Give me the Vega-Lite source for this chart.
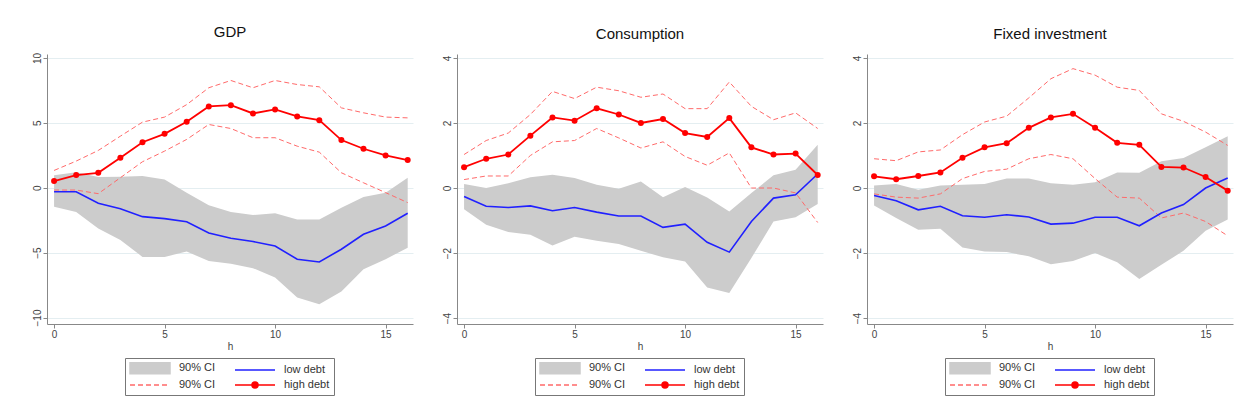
{
  "$schema": "https://vega.github.io/schema/vega-lite/v6.json",
  "padding": {"left": 32, "top": 25, "right": 5, "bottom": 5},
  "background": "white",
  "datasets": {
    "irf": [
      {"p":"GDP","h":0,"lo_l":-1.46,"lo_u":0.95,"low":-0.31,"hi_l":-0.18,"hi_u":1.33,"high":0.51},
      {"p":"GDP","h":1,"lo_l":-1.87,"lo_u":1.2,"low":-0.31,"hi_l":-0.18,"hi_u":2.05,"high":0.97},
      {"p":"GDP","h":2,"lo_l":-3.15,"lo_u":0.82,"low":-1.2,"hi_l":-0.46,"hi_u":2.87,"high":1.15},
      {"p":"GDP","h":3,"lo_l":-4.03,"lo_u":0.85,"low":-1.62,"hi_l":0.77,"hi_u":3.97,"high":2.3},
      {"p":"GDP","h":4,"lo_l":-5.33,"lo_u":0.9,"low":-2.23,"hi_l":2.0,"hi_u":5.05,"high":3.5},
      {"p":"GDP","h":5,"lo_l":-5.33,"lo_u":0.64,"low":-2.38,"hi_l":2.82,"hi_u":5.44,"high":4.15},
      {"p":"GDP","h":6,"lo_l":-4.92,"lo_u":-0.38,"low":-2.62,"hi_l":3.72,"hi_u":6.4,"high":5.08},
      {"p":"GDP","h":7,"lo_l":-5.64,"lo_u":-1.36,"low":-3.49,"hi_l":4.87,"hi_u":7.7,"high":6.26},
      {"p":"GDP","h":8,"lo_l":-5.85,"lo_u":-1.87,"low":-3.9,"hi_l":4.56,"hi_u":8.26,"high":6.36},
      {"p":"GDP","h":9,"lo_l":-6.2,"lo_u":-2.1,"low":-4.15,"hi_l":3.85,"hi_u":7.7,"high":5.72},
      {"p":"GDP","h":10,"lo_l":-6.92,"lo_u":-1.97,"low":-4.49,"hi_l":3.85,"hi_u":8.26,"high":6.03},
      {"p":"GDP","h":11,"lo_l":-8.46,"lo_u":-2.44,"low":-5.51,"hi_l":3.2,"hi_u":7.95,"high":5.49},
      {"p":"GDP","h":12,"lo_l":-8.97,"lo_u":-2.44,"low":-5.72,"hi_l":2.74,"hi_u":7.77,"high":5.2},
      {"p":"GDP","h":13,"lo_l":-8.0,"lo_u":-1.54,"low":-4.74,"hi_l":1.15,"hi_u":6.15,"high":3.67},
      {"p":"GDP","h":14,"lo_l":-6.28,"lo_u":-0.72,"low":-3.59,"hi_l":0.38,"hi_u":5.77,"high":3.0},
      {"p":"GDP","h":15,"lo_l":-5.51,"lo_u":-0.38,"low":-2.95,"hi_l":-0.38,"hi_u":5.44,"high":2.49},
      {"p":"GDP","h":16,"lo_l":-4.62,"lo_u":0.77,"low":-1.97,"hi_l":-1.15,"hi_u":5.38,"high":2.13},
      {"p":"Consumption","h":0,"lo_l":-0.65,"lo_u":0.12,"low":-0.26,"hi_l":0.26,"hi_u":1.03,"high":0.64},
      {"p":"Consumption","h":1,"lo_l":-1.13,"lo_u":0.0,"low":-0.56,"hi_l":0.37,"hi_u":1.46,"high":0.9},
      {"p":"Consumption","h":2,"lo_l":-1.35,"lo_u":0.15,"low":-0.6,"hi_l":0.37,"hi_u":1.69,"high":1.03},
      {"p":"Consumption","h":3,"lo_l":-1.44,"lo_u":0.33,"low":-0.55,"hi_l":1.0,"hi_u":2.26,"high":1.61},
      {"p":"Consumption","h":4,"lo_l":-1.77,"lo_u":0.41,"low":-0.7,"hi_l":1.42,"hi_u":2.97,"high":2.17},
      {"p":"Consumption","h":5,"lo_l":-1.5,"lo_u":0.31,"low":-0.6,"hi_l":1.46,"hi_u":2.75,"high":2.07},
      {"p":"Consumption","h":6,"lo_l":-1.62,"lo_u":0.1,"low":-0.74,"hi_l":1.83,"hi_u":3.1,"high":2.45},
      {"p":"Consumption","h":7,"lo_l":-1.72,"lo_u":-0.02,"low":-0.86,"hi_l":1.54,"hi_u":2.99,"high":2.26},
      {"p":"Consumption","h":8,"lo_l":-1.93,"lo_u":0.2,"low":-0.86,"hi_l":1.23,"hi_u":2.79,"high":2.0},
      {"p":"Consumption","h":9,"lo_l":-2.13,"lo_u":-0.28,"low":-1.21,"hi_l":1.42,"hi_u":2.89,"high":2.12},
      {"p":"Consumption","h":10,"lo_l":-2.26,"lo_u":0.03,"low":-1.11,"hi_l":0.97,"hi_u":2.44,"high":1.69},
      {"p":"Consumption","h":11,"lo_l":-3.06,"lo_u":-0.29,"low":-1.67,"hi_l":0.7,"hi_u":2.44,"high":1.57},
      {"p":"Consumption","h":12,"lo_l":-3.23,"lo_u":-0.72,"low":-1.97,"hi_l":1.08,"hi_u":3.26,"high":2.15},
      {"p":"Consumption","h":13,"lo_l":-2.15,"lo_u":-0.15,"low":-1.03,"hi_l":0.0,"hi_u":2.51,"high":1.25},
      {"p":"Consumption","h":14,"lo_l":-1.03,"lo_u":0.39,"low":-0.31,"hi_l":0.0,"hi_u":2.1,"high":1.03},
      {"p":"Consumption","h":15,"lo_l":-0.9,"lo_u":0.56,"low":-0.21,"hi_l":-0.15,"hi_u":2.31,"high":1.06},
      {"p":"Consumption","h":16,"lo_l":-0.49,"lo_u":1.33,"low":0.43,"hi_l":-1.06,"hi_u":1.83,"high":0.4},
      {"p":"Fixed investment","h":0,"lo_l":-0.54,"lo_u":0.08,"low":-0.23,"hi_l":-0.18,"hi_u":0.9,"high":0.36},
      {"p":"Fixed investment","h":1,"lo_l":-0.92,"lo_u":0.12,"low":-0.39,"hi_l":-0.28,"hi_u":0.84,"high":0.27},
      {"p":"Fixed investment","h":2,"lo_l":-1.28,"lo_u":-0.05,"low":-0.67,"hi_l":-0.31,"hi_u":1.11,"high":0.37},
      {"p":"Fixed investment","h":3,"lo_l":-1.25,"lo_u":0.08,"low":-0.56,"hi_l":-0.18,"hi_u":1.17,"high":0.48},
      {"p":"Fixed investment","h":4,"lo_l":-1.83,"lo_u":0.1,"low":-0.85,"hi_l":0.29,"hi_u":1.64,"high":0.93},
      {"p":"Fixed investment","h":5,"lo_l":-1.95,"lo_u":0.12,"low":-0.9,"hi_l":0.51,"hi_u":2.03,"high":1.25},
      {"p":"Fixed investment","h":6,"lo_l":-1.97,"lo_u":0.29,"low":-0.82,"hi_l":0.58,"hi_u":2.21,"high":1.38},
      {"p":"Fixed investment","h":7,"lo_l":-2.1,"lo_u":0.29,"low":-0.89,"hi_l":0.9,"hi_u":2.77,"high":1.85},
      {"p":"Fixed investment","h":8,"lo_l":-2.34,"lo_u":0.15,"low":-1.11,"hi_l":1.03,"hi_u":3.36,"high":2.17},
      {"p":"Fixed investment","h":9,"lo_l":-2.24,"lo_u":0.1,"low":-1.08,"hi_l":0.9,"hi_u":3.67,"high":2.28},
      {"p":"Fixed investment","h":10,"lo_l":-2.0,"lo_u":0.18,"low":-0.9,"hi_l":0.29,"hi_u":3.47,"high":1.85},
      {"p":"Fixed investment","h":11,"lo_l":-2.28,"lo_u":0.48,"low":-0.9,"hi_l":-0.28,"hi_u":3.1,"high":1.39},
      {"p":"Fixed investment","h":12,"lo_l":-2.8,"lo_u":0.47,"low":-1.16,"hi_l":-0.31,"hi_u":3.0,"high":1.33},
      {"p":"Fixed investment","h":13,"lo_l":-2.36,"lo_u":0.82,"low":-0.77,"hi_l":-0.92,"hi_u":2.28,"high":0.65},
      {"p":"Fixed investment","h":14,"lo_l":-1.93,"lo_u":0.92,"low":-0.51,"hi_l":-0.77,"hi_u":2.05,"high":0.63},
      {"p":"Fixed investment","h":15,"lo_l":-1.31,"lo_u":1.25,"low":0.0,"hi_l":-1.03,"hi_u":1.72,"high":0.34},
      {"p":"Fixed investment","h":16,"lo_l":-0.97,"lo_u":1.59,"low":0.31,"hi_l":-1.47,"hi_u":1.31,"high":-0.08}
    ]
  },
  "data": {"name": "irf"},
  "spacing": 29,
  "resolve": {
    "scale": {"x": "independent", "y": "independent", "shape": "independent", "fill": "independent", "stroke": "independent"},
    "legend": {"shape": "independent", "fill": "independent", "stroke": "independent"}
  },
  "hconcat": [
    {
      "title": "GDP",
      "width": 366, "height": 270,
      "transform": [{"filter": "datum.p == 'GDP'"}],
      "encoding": {"x": {"field": "h", "type": "quantitative", "title": "h", "scale": {"domain": [-0.32, 16.24], "nice": false, "zero": false}, "axis": {"values": [0, 5, 10, 15], "grid": false}}},
      "layer": [
        {"mark": {"type": "area", "color": "#cccccc", "opacity": 1}, "encoding": {"y": {"field": "lo_l", "type": "quantitative", "title": null, "scale": {"domain": [-10.5, 10.3], "nice": false, "zero": false}, "axis": {"values": [-10, -5, 0, 5, 10]}}, "y2": {"field": "lo_u"}}},
        {"mark": {"type": "line", "color": "#ff6a6a", "strokeWidth": 1, "strokeDash": [5, 3]}, "encoding": {"y": {"field": "hi_u", "type": "quantitative"}}},
        {"mark": {"type": "line", "color": "#ff6a6a", "strokeWidth": 1, "strokeDash": [5, 3]}, "encoding": {"y": {"field": "hi_l", "type": "quantitative"}}},
        {"mark": {"type": "line", "color": "#2020ff", "strokeWidth": 1.6}, "encoding": {"y": {"field": "low", "type": "quantitative"}}},
        {"mark": {"type": "line", "color": "#ff0000", "strokeWidth": 1.8, "point": {"filled": true, "size": 36, "color": "#ff0000", "opacity": 1}}, "encoding": {"y": {"field": "high", "type": "quantitative"}}},
        {
          "transform": [{"filter": "false"}],
          "mark": {"type": "point", "filled": true, "opacity": 1},
          "encoding": {
            "shape": {"field": "key", "type": "nominal", "scale": {"domain": ["band", "low", "ci", "high"], "range": ["M-1,-1.1H7V1.1H-1Z", "M-1,0H7", "M-1,0H0M0.6,0H1.6M2.2,0H3.2M3.8,0H4.8M5.4,0H6.4", "M-1,0H7M2.4,0A0.6,0.6,0,1,0,3.6,0A0.6,0.6,0,1,0,2.4,0Z"]}, "legend": {"title": null, "orient": "none", "direction": "horizontal", "legendX": 78, "legendY": 304, "columns": 2, "labelExpr": "datum.label == 'low' ? 'low debt' : datum.label == 'high' ? 'high debt' : '90% CI'"}},
            "fill": {"field": "key", "type": "nominal", "scale": {"domain": ["band", "low", "ci", "high"], "range": ["#cccccc", "#2020ff", "#ff6a6a", "#ff0000"]}, "legend": {"title": null, "orient": "none", "direction": "horizontal", "legendX": 78, "legendY": 304, "columns": 2, "labelExpr": "datum.label == 'low' ? 'low debt' : datum.label == 'high' ? 'high debt' : '90% CI'"}},
            "stroke": {"field": "key", "type": "nominal", "scale": {"domain": ["band", "low", "ci", "high"], "range": ["#cccccc", "#2020ff", "#ff6a6a", "#ff0000"]}, "legend": {"title": null, "orient": "none", "direction": "horizontal", "legendX": 78, "legendY": 304, "columns": 2, "labelExpr": "datum.label == 'low' ? 'low debt' : datum.label == 'high' ? 'high debt' : '90% CI'"}}
          }
        }
      ]
    },
    {
      "title": "Consumption",
      "width": 366, "height": 270,
      "transform": [{"filter": "datum.p == 'Consumption'"}],
      "encoding": {"x": {"field": "h", "type": "quantitative", "title": "h", "scale": {"domain": [-0.32, 16.24], "nice": false, "zero": false}, "axis": {"values": [0, 5, 10, 15], "grid": false}}},
      "layer": [
        {"mark": {"type": "area", "color": "#cccccc", "opacity": 1}, "encoding": {"y": {"field": "lo_l", "type": "quantitative", "title": null, "scale": {"domain": [-4.18, 4.12], "nice": false, "zero": false}, "axis": {"values": [-4, -2, 0, 2, 4]}}, "y2": {"field": "lo_u"}}},
        {"mark": {"type": "line", "color": "#ff6a6a", "strokeWidth": 1, "strokeDash": [5, 3]}, "encoding": {"y": {"field": "hi_u", "type": "quantitative"}}},
        {"mark": {"type": "line", "color": "#ff6a6a", "strokeWidth": 1, "strokeDash": [5, 3]}, "encoding": {"y": {"field": "hi_l", "type": "quantitative"}}},
        {"mark": {"type": "line", "color": "#2020ff", "strokeWidth": 1.6}, "encoding": {"y": {"field": "low", "type": "quantitative"}}},
        {"mark": {"type": "line", "color": "#ff0000", "strokeWidth": 1.8, "point": {"filled": true, "size": 36, "color": "#ff0000", "opacity": 1}}, "encoding": {"y": {"field": "high", "type": "quantitative"}}},
        {
          "transform": [{"filter": "false"}],
          "mark": {"type": "point", "filled": true, "opacity": 1},
          "encoding": {
            "shape": {"field": "key", "type": "nominal", "scale": {"domain": ["band", "low", "ci", "high"], "range": ["M-1,-1.1H7V1.1H-1Z", "M-1,0H7", "M-1,0H0M0.6,0H1.6M2.2,0H3.2M3.8,0H4.8M5.4,0H6.4", "M-1,0H7M2.4,0A0.6,0.6,0,1,0,3.6,0A0.6,0.6,0,1,0,2.4,0Z"]}, "legend": {"title": null, "orient": "none", "direction": "horizontal", "legendX": 78, "legendY": 304, "columns": 2, "labelExpr": "datum.label == 'low' ? 'low debt' : datum.label == 'high' ? 'high debt' : '90% CI'"}},
            "fill": {"field": "key", "type": "nominal", "scale": {"domain": ["band", "low", "ci", "high"], "range": ["#cccccc", "#2020ff", "#ff6a6a", "#ff0000"]}, "legend": {"title": null, "orient": "none", "direction": "horizontal", "legendX": 78, "legendY": 304, "columns": 2, "labelExpr": "datum.label == 'low' ? 'low debt' : datum.label == 'high' ? 'high debt' : '90% CI'"}},
            "stroke": {"field": "key", "type": "nominal", "scale": {"domain": ["band", "low", "ci", "high"], "range": ["#cccccc", "#2020ff", "#ff6a6a", "#ff0000"]}, "legend": {"title": null, "orient": "none", "direction": "horizontal", "legendX": 78, "legendY": 304, "columns": 2, "labelExpr": "datum.label == 'low' ? 'low debt' : datum.label == 'high' ? 'high debt' : '90% CI'"}}
          }
        }
      ]
    },
    {
      "title": "Fixed investment",
      "width": 366, "height": 270,
      "transform": [{"filter": "datum.p == 'Fixed investment'"}],
      "encoding": {"x": {"field": "h", "type": "quantitative", "title": "h", "scale": {"domain": [-0.32, 16.24], "nice": false, "zero": false}, "axis": {"values": [0, 5, 10, 15], "grid": false}}},
      "layer": [
        {"mark": {"type": "area", "color": "#cccccc", "opacity": 1}, "encoding": {"y": {"field": "lo_l", "type": "quantitative", "title": null, "scale": {"domain": [-4.18, 4.12], "nice": false, "zero": false}, "axis": {"values": [-4, -2, 0, 2, 4]}}, "y2": {"field": "lo_u"}}},
        {"mark": {"type": "line", "color": "#ff6a6a", "strokeWidth": 1, "strokeDash": [5, 3]}, "encoding": {"y": {"field": "hi_u", "type": "quantitative"}}},
        {"mark": {"type": "line", "color": "#ff6a6a", "strokeWidth": 1, "strokeDash": [5, 3]}, "encoding": {"y": {"field": "hi_l", "type": "quantitative"}}},
        {"mark": {"type": "line", "color": "#2020ff", "strokeWidth": 1.6}, "encoding": {"y": {"field": "low", "type": "quantitative"}}},
        {"mark": {"type": "line", "color": "#ff0000", "strokeWidth": 1.8, "point": {"filled": true, "size": 36, "color": "#ff0000", "opacity": 1}}, "encoding": {"y": {"field": "high", "type": "quantitative"}}},
        {
          "transform": [{"filter": "false"}],
          "mark": {"type": "point", "filled": true, "opacity": 1},
          "encoding": {
            "shape": {"field": "key", "type": "nominal", "scale": {"domain": ["band", "low", "ci", "high"], "range": ["M-1,-1.1H7V1.1H-1Z", "M-1,0H7", "M-1,0H0M0.6,0H1.6M2.2,0H3.2M3.8,0H4.8M5.4,0H6.4", "M-1,0H7M2.4,0A0.6,0.6,0,1,0,3.6,0A0.6,0.6,0,1,0,2.4,0Z"]}, "legend": {"title": null, "orient": "none", "direction": "horizontal", "legendX": 78, "legendY": 304, "columns": 2, "labelExpr": "datum.label == 'low' ? 'low debt' : datum.label == 'high' ? 'high debt' : '90% CI'"}},
            "fill": {"field": "key", "type": "nominal", "scale": {"domain": ["band", "low", "ci", "high"], "range": ["#cccccc", "#2020ff", "#ff6a6a", "#ff0000"]}, "legend": {"title": null, "orient": "none", "direction": "horizontal", "legendX": 78, "legendY": 304, "columns": 2, "labelExpr": "datum.label == 'low' ? 'low debt' : datum.label == 'high' ? 'high debt' : '90% CI'"}},
            "stroke": {"field": "key", "type": "nominal", "scale": {"domain": ["band", "low", "ci", "high"], "range": ["#cccccc", "#2020ff", "#ff6a6a", "#ff0000"]}, "legend": {"title": null, "orient": "none", "direction": "horizontal", "legendX": 78, "legendY": 304, "columns": 2, "labelExpr": "datum.label == 'low' ? 'low debt' : datum.label == 'high' ? 'high debt' : '90% CI'"}}
          }
        }
      ]
    }
  ],
  "config": {
    "font": "Liberation Sans",
    "view": {"stroke": null},
    "title": {"fontSize": 15, "fontWeight": "normal", "color": "#111", "offset": 12},
    "axis": {
      "domainColor": "#888", "tickColor": "#888", "tickSize": 4,
      "labelFont": "Liberation Sans", "labelFontSize": 10, "labelColor": "#444", "labelPadding": 1,
      "titleFont": "Liberation Sans", "titleFontSize": 10, "titleFontWeight": "normal", "titleColor": "#444", "titlePadding": 2,
      "gridColor": "#e4eef1", "gridWidth": 1
    },
    "axisY": {"labelAngle": -90, "grid": true},
    "legend": {
      "strokeColor": "#777", "padding": 4, "labelFont": "Liberation Sans", "labelFontSize": 11, "labelColor": "#333",
      "symbolSize": 100, "symbolStrokeWidth": 1.5, "columnPadding": 16, "rowPadding": 2, "labelOffset": 38
    }
  }
}
